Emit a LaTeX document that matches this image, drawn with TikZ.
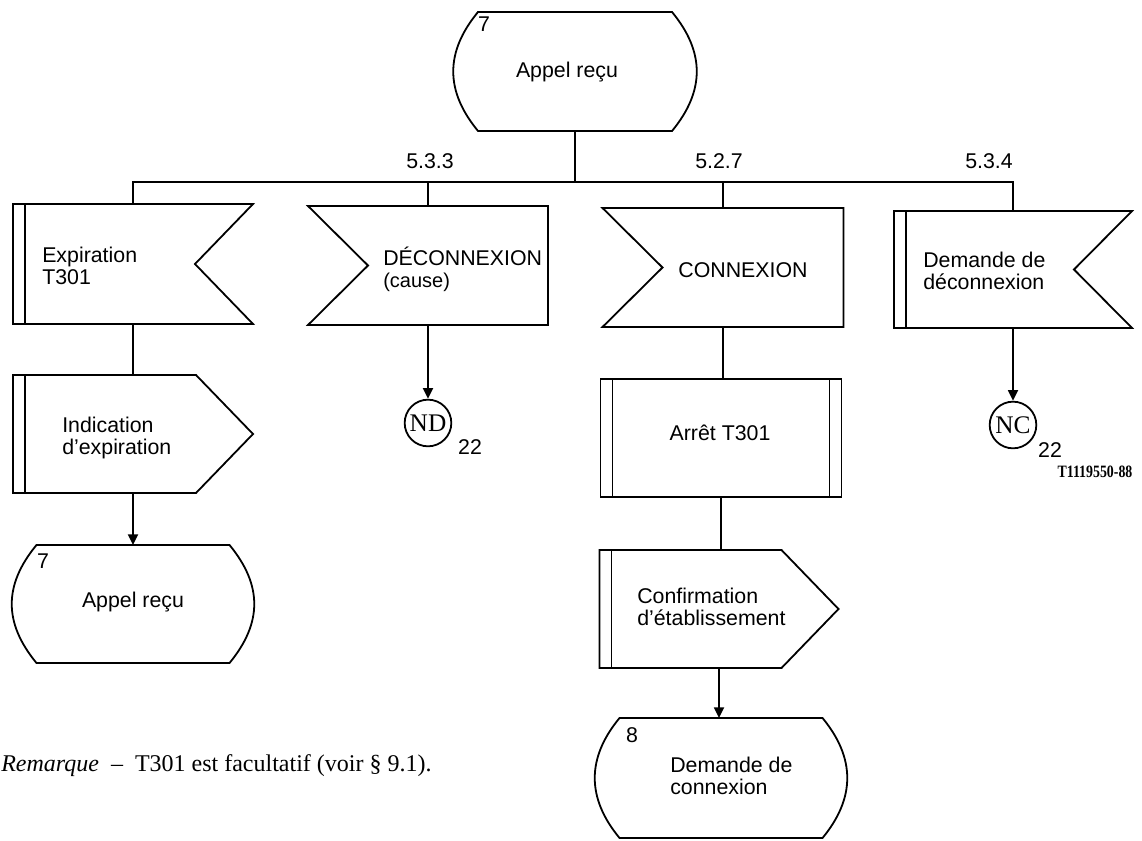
\documentclass[tikz,border=0pt]{standalone}
\usepackage{fontspec}
\setmainfont{Liberation Sans}
\newfontfamily\seriffont{Liberation Serif}
\newfontfamily\codefont[FakeStretch=0.8]{Liberation Serif}
\usetikzlibrary{calc,arrows.meta}

% SDL symbol outlines, drawn around a named (invisible) rectangular node
\newcommand\sdlState[1]{\draw[ln] (#1.north west) -- (#1.north east)
  .. controls ($(#1.north east)+(33,40)$) and ($(#1.south east)+(33,-40)$) .. (#1.south east)
  -- (#1.south west)
  .. controls ($(#1.south west)+(-33,-40)$) and ($(#1.north west)+(-33,40)$) .. (#1.north west) -- cycle;}
\newcommand\sdlInR[1]{\draw[ln] (#1.north west) -- (#1.north east) -- ($(#1.east)+(-58,0)$)
  -- (#1.south east) -- (#1.south west) -- cycle;}
\newcommand\sdlInL[1]{\draw[ln] (#1.north west) -- (#1.north east) -- (#1.south east)
  -- (#1.south west) -- ($(#1.west)+(60,0)$) -- cycle;}
\newcommand\sdlOut[1]{\draw[ln] (#1.north west) -- ($(#1.north east)+(-57,0)$) -- (#1.east)
  -- ($(#1.south east)+(-57,0)$) -- (#1.south west) -- cycle;}
\newcommand\sdlTask[1]{\draw[ln] (#1.north west) rectangle (#1.south east);}
\newcommand\sdlBarL[1]{\draw[ln] ($(#1.north west)+(12,0)$) -- ($(#1.south west)+(12,0)$);}
\newcommand\sdlBarR[1]{\draw[ln] ($(#1.north east)+(-12,0)$) -- ($(#1.south east)+(-12,0)$);}

\begin{document}
\begin{tikzpicture}[x=0.75pt,y=-0.75pt,
  ln/.style={line width=1.35pt, line join=miter},
  arr/.style={ln, -{Triangle[length=8pt,width=7.5pt]}},
  frame/.style 2 args={inner sep=0pt, outer sep=0pt,
    minimum width=#1*0.75pt, minimum height=#2*0.75pt},
  lbl/.style={font=\fontsize{16}{16.5}\selectfont, inner sep=0pt, align=left},
  conn/.style={circle, draw, line width=1.35pt, inner sep=0pt, minimum size=35pt,
    font=\seriffont\fontsize{19}{19}\selectfont},
]
\useasboundingbox (0,0) rectangle (1142,841);

% ---- symbol bodies ----
\node[frame={194}{119}] (st7)  at (575,71.5) {};
\node[frame={240}{120}] (exp)  at (133,264) {};
\node[frame={240}{119}] (dec)  at (428,265.5) {};
\node[frame={241}{119}] (con)  at (723,267.5) {};
\node[frame={238}{117}] (dde)  at (1013,269.5) {};
\node[frame={240}{118}] (ind)  at (133,434) {};
\node[frame={193}{118}] (st7b) at (133,604) {};
\node[frame={241}{118}] (arr)  at (721,438) {};
\node[frame={239}{118}] (cnf)  at (719,609) {};
\node[frame={203}{120}] (st8)  at (721,778) {};
\node[conn] (nd) at (428,423) {ND};
\node[conn] (nc) at (1013,425) {NC};

% ---- outlines ----
\sdlState{st7}
\sdlInR{exp} \sdlBarL{exp}
\sdlInL{dec}
\sdlInL{con}
\sdlInR{dde} \sdlBarL{dde}
\sdlOut{ind} \sdlBarL{ind}
\sdlState{st7b}
\sdlTask{arr} \sdlBarL{arr} \sdlBarR{arr}
\sdlOut{cnf} \sdlBarL{cnf}
\sdlState{st8}

% ---- texts ----
\node[lbl] (st7-n) at (484,24) {7};
\node[lbl] (st7-t) at (567,72) {Appel reçu};
\node[lbl, anchor=west] (exp-t) at (42,266) {Expiration\\T301};
\node[lbl, anchor=west] (dec-t) at (383,269.5) {DÉCONNEXION\\{\fontsize{15}{16}\selectfont(cause)}};
\node[lbl] (con-t) at (743,270) {CONNEXION};
\node[lbl, anchor=west] (dde-t) at (923,271) {Demande de\\déconnexion};
\node[lbl, anchor=west] (ind-t) at (62,437.5) {Indication\\d’expiration};
\node[lbl] (st7b-n) at (43,561) {7};
\node[lbl] (st7b-t) at (133,602) {Appel reçu};
\node[lbl] (arr-t) at (720,433) {Arrêt T301};
\node[lbl, anchor=west] (cnf-t) at (637,606.5) {Confirmation\\d’établissement};
\node[lbl] (st8-n) at (632,735) {8};
\node[lbl, anchor=west] (st8-t) at (670,776) {Demande de\\connexion};
\node[lbl] (nd-r) at (470,447) {22};
\node[lbl] (nc-r) at (1050,450) {22};
\node[lbl] (b533) at (430,161) {5.3.3};
\node[lbl] (b527) at (719,161) {5.2.7};
\node[lbl] (b534) at (989,161) {5.3.4};
\node[inner sep=0pt, font=\codefont\bfseries\fontsize{13}{13}\selectfont] (code) at (1095,472) {T1119550-88};
\node[inner sep=0pt, anchor=west, font=\seriffont\fontsize{18}{18}\selectfont] (note) at (1,766)
  {\textit{Remarque}\enspace–\enspace T301 est facultatif (voir § 9.1).};

% ---- connectors ----
\coordinate (bus) at (0,182);
\draw[ln] (exp.north) |- (dde.north |- bus) -- (dde.north);
\draw[ln] (st7.south) -- (st7.south |- bus);
\draw[ln] (dec.north) -- (dec.north |- bus);
\draw[ln] (con.north) -- (con.north |- bus);
\draw[ln] (exp.south) -- (ind.north);
\draw[arr] (ind.south) -- (st7b.north);
\draw[arr] (dec.south) -- (nd.north);
\draw[arr] (dde.south) -- (nc.north);
\draw[ln] (con.south) -- (con.south |- arr.north);
\draw[ln] (arr.south) -- (arr.south |- cnf.north);
\draw[arr] (cnf.south) -- (cnf.south |- st8.north);
\end{tikzpicture}
\end{document}
